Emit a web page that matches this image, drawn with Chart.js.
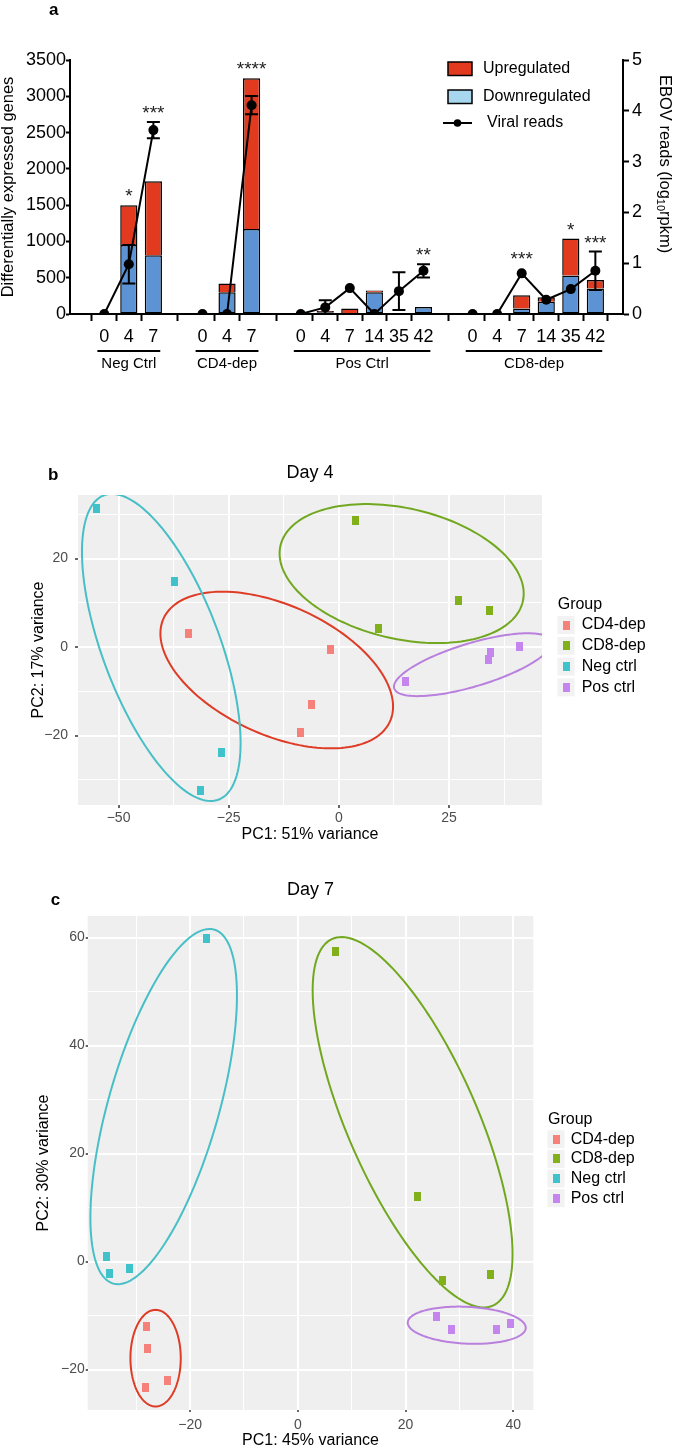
<!DOCTYPE html>
<html>
<head>
<meta charset="utf-8">
<title>Differentially expressed genes and PCA, days 4 and 7</title>
<script src="https://cdn.jsdelivr.net/npm/chart.js@4.4.1/dist/chart.umd.min.js"></script>
<style>
  body { margin: 0; background: #fff; }
  .panel { position: absolute; left: 0; }
</style>
</head>
<body>
<canvas id="chartA" class="panel" width="675" height="380" style="top:0px"></canvas>
<canvas id="chartB" class="panel" width="675" height="410" style="top:440px"></canvas>
<canvas id="chartC" class="panel" width="675" height="590" style="top:860px"></canvas>
<script>
// ---- panel a: DEG bars + viral reads ----
const groupNames = ['Neg Ctrl', 'CD4-dep', 'Pos Ctrl', 'CD8-dep'];
const groupSizes = [3, 3, 6, 6];
const dayLabels = ['0', '4', '7', '0', '4', '7', '0', '4', '7', '14', '35', '42', '0', '4', '7', '14', '35', '42'];
const downregulated = [0, 950, 810, 0, 300, 1170, 0, 25, 15, 300, 0, 95, 0, 0, 75, 170, 530, 350];
const upregulated = [0, 550, 1020, 0, 120, 2080, 0, 15, 60, 25, 0, 0, 0, 0, 185, 60, 510, 120];
const viralReads = [0, 0.98, 3.62, 0, 0, 4.11, 0, 0.13, 0.51, 0, 0.45, 0.85, 0, 0, 0.80, 0.28, 0.49, 0.85];
const viralErr = [0, 0.38, 0.16, 0, 0, 0.18, 0, 0.14, 0, 0, 0.37, 0.13, 0, 0, 0, 0, 0, 0.38];
const sigStars = ['', '*', '***', '', '', '****', '', '', '', '', '', '**', '', '', '***', '', '*', '***'];

// ---- panels b and c: PCA ----
const groupLabels = ['CD4-dep', 'CD8-dep', 'Neg ctrl', 'Pos ctrl'];
const day4PC1 = [[-34.2, -2.0, -6.2, -8.7], [3.7, 8.9, 27.1, 34.2], [-54.9, -37.3, -26.7, -31.4], [15.2, 34.0, 34.3, 41.0]];
const day4PC2 = [[3.0, -0.5, -12.9, -19.3], [28.7, 4.1, 10.6, 8.3], [31.2, 14.9, -23.9, -32.5], [-7.8, -2.9, -1.2, 0.1]];
// ellipse per group: centre x, centre y, half width, half height, x offset of topmost point
const day4Ellipses = [[-14.1, -5.2, 26.4, 17.7, -12.3], [14.25, 16.6, 27.7, 15.7, -8.0], [-40.3, -0.1, 18.0, 34.7, -11.2], [30.4, -4.0, 17.9, 7.1, 12.5]];
const day4MajorX = [-50, -25, 0, 25];
const day4MinorX = [-37.5, -12.5, 12.5, 37.5];
const day4MajorY = [-20, 0, 20];
const day4MinorY = [-30, -10, 10, 30];

const day7PC1 = [[-28.1, -27.9, -28.2, -24.1], [6.9, 22.2, 26.9, 35.7], [-17.0, -35.5, -35.0, -31.2], [25.8, 28.6, 36.8, 39.5]];
const day7PC2 = [[-12.1, -16.2, -23.4, -22.1], [57.5, 12.0, -3.6, -2.4], [59.85, 1.0, -2.3, -1.3], [-10.1, -12.5, -12.5, -11.4]];
const day7Ellipses = [[-26.4, -17.9, 4.67, 8.95, 0], [21.3, 25.8, 18.55, 34.3, -13.2], [-24.9, 28.7, 13.6, 32.9, 8.5], [31.35, -11.8, 10.95, 3.45, -1.5]];
const day7MajorX = [-20, 0, 20, 40];
const day7MinorX = [-30, -10, 10, 30];
const day7MajorY = [-20, 0, 20, 40, 60];
const day7MinorY = [-10, 10, 30, 50];

const pointColors = ['#f6807a', '#82b01a', '#3fc2c9', '#c585ee'];
const ellipseColors = ['#de3c26', '#72a81f', '#48bfc7', '#b980de'];

const fontFamily = "'Liberation Sans', Arial, Helvetica, sans-serif";
Chart.defaults.font.family = fontFamily;
Chart.defaults.color = '#000';

document.addEventListener('DOMContentLoaded', function() {
    // slot positions on the x axis, one empty slot between groups
    const slots = [];
    const groupSlots = [];
    let nextSlot = 0;
    groupSizes.forEach(n => {
        const first = nextSlot;
        for (let i = 0; i < n; i++) slots.push(nextSlot++);
        groupSlots.push([first, nextSlot - 1]);
        nextSlot++;
    });

    const viralPoints = [];
    slots.forEach((s, i) => {
        if (i > 0 && s - slots[i - 1] > 1) viralPoints.push({x: s - 1, y: null});
        viralPoints.push({x: s, y: viralReads[i]});
    });

    const panelAExtras = {
        id: 'panelAExtras',
        afterDatasetsDraw(chart) {
            const {ctx, scales: {x, y, y2}} = chart;
            ctx.save();
            // error bars
            ctx.strokeStyle = '#000';
            ctx.lineWidth = 2;
            viralErr.forEach((err, i) => {
                if (!err) return;
                const px = x.getPixelForValue(slots[i]);
                const hi = y2.getPixelForValue(viralReads[i] + err);
                const lo = y2.getPixelForValue(Math.max(0, viralReads[i] - err));
                ctx.beginPath();
                ctx.moveTo(px, hi); ctx.lineTo(px, lo);
                ctx.moveTo(px - 6.5, hi); ctx.lineTo(px + 6.5, hi);
                ctx.moveTo(px - 6.5, lo); ctx.lineTo(px + 6.5, lo);
                ctx.stroke();
            });
            // significance stars
            ctx.font = '19px ' + fontFamily;
            ctx.fillStyle = '#222';
            ctx.textAlign = 'center';
            ctx.textBaseline = 'alphabetic';
            sigStars.forEach((s, i) => {
                if (!s) return;
                const px = x.getPixelForValue(slots[i]);
                const barTop = y.getPixelForValue(downregulated[i] + upregulated[i]);
                const errTop = y2.getPixelForValue(viralReads[i] + viralErr[i]);
                const dotTop = y2.getPixelForValue(viralReads[i]) - 5;
                ctx.fillText(s, px, Math.min(barTop, errTop, dotTop) - 3);
            });
            ctx.restore();
        },
        afterDraw(chart) {
            const {ctx, scales: {x}} = chart;
            const ds = chart.data.datasets;
            ctx.save();
            // group brackets under the day labels
            const slotPx = x.getPixelForValue(1) - x.getPixelForValue(0);
            ctx.strokeStyle = '#000';
            ctx.lineWidth = 2;
            ctx.fillStyle = '#000';
            ctx.font = '15px ' + fontFamily;
            ctx.textAlign = 'center';
            ctx.textBaseline = 'alphabetic';
            groupSlots.forEach(([a, b], g) => {
                const x0 = x.getPixelForValue(a) - 0.28 * slotPx;
                const x1 = x.getPixelForValue(b) + 0.28 * slotPx;
                ctx.beginPath();
                ctx.moveTo(x0, 351); ctx.lineTo(x1, 351);
                ctx.stroke();
                ctx.fillText(groupNames[g], (x0 + x1) / 2, 368);
            });

            // legend
            ctx.textAlign = 'left';
            ctx.textBaseline = 'middle';
            ctx.font = '16px ' + fontFamily;
            ctx.lineWidth = 1.5;
            ctx.fillStyle = ds[2].backgroundColor;
            ctx.fillRect(448, 62, 24, 13.5);
            ctx.strokeRect(448, 62, 24, 13.5);
            ctx.fillStyle = '#a8d6ef';
            ctx.fillRect(448, 90, 24, 13.5);
            ctx.strokeRect(448, 90, 24, 13.5);
            ctx.lineWidth = 2;
            ctx.beginPath();
            ctx.moveTo(443, 123); ctx.lineTo(472, 123);
            ctx.stroke();
            ctx.fillStyle = '#000';
            ctx.beginPath();
            ctx.arc(457.5, 123, 3.8, 0, Math.PI * 2);
            ctx.fill();
            ctx.fillText(ds[2].label, 483, 69);
            ctx.fillText(ds[1].label, 483, 97);
            ctx.fillText(ds[0].label, 487, 123);

            // right axis title with subscript
            ctx.translate(665, 75);
            ctx.rotate(Math.PI / 2);
            ctx.textBaseline = 'middle';
            ctx.font = '16.5px ' + fontFamily;
            let tx = 0;
            ctx.fillText('EBOV reads (log', tx, 0);
            tx += ctx.measureText('EBOV reads (log').width;
            ctx.font = '11px ' + fontFamily;
            ctx.fillText('10', tx, 5);
            tx += ctx.measureText('10').width;
            ctx.font = '16.5px ' + fontFamily;
            ctx.fillText('rpkm)', tx, 0);
            ctx.restore();

            ctx.save();
            ctx.font = 'bold 17px ' + fontFamily;
            ctx.fillStyle = '#000';
            ctx.fillText('a', 49, 15);
            ctx.restore();
        }
    };

    // Differentially expressed genes chart
    new Chart(document.getElementById('chartA'), {
        type: 'bar',
        data: {
            datasets: [{
                type: 'line',
                label: 'Viral reads',
                data: viralPoints,
                yAxisID: 'y2',
                borderColor: '#000',
                borderWidth: 2,
                pointRadius: 5,
                pointBackgroundColor: '#000',
                pointBorderWidth: 0,
                spanGaps: false,
                order: 0
            }, {
                label: 'Downregulated',
                data: downregulated.map((v, i) => ({x: slots[i], y: v})),
                backgroundColor: '#5b93d4',
                borderColor: '#000',
                borderWidth: 1.5,
                borderSkipped: false,
                stack: 'deg',
                order: 1
            }, {
                label: 'Upregulated',
                data: upregulated.map((v, i) => ({x: slots[i], y: v})),
                backgroundColor: '#e23a1e',
                borderColor: '#000',
                borderWidth: 1.5,
                borderSkipped: 'start',
                stack: 'deg',
                order: 1
            }]
        },
        options: {
            responsive: false,
            animation: false,
            devicePixelRatio: 1,
            layout: { padding: { top: 60, left: 0, right: 0, bottom: 0 } },
            datasets: { bar: { categoryPercentage: 1, barPercentage: 0.7 } },
            plugins: {
                legend: { display: false },
                tooltip: { enabled: false }
            },
            scales: {
                x: {
                    type: 'linear',
                    min: -0.77,
                    max: 20.5,
                    bounds: 'data',
                    afterBuildTicks: s => { s.ticks = slots.map(v => ({value: v})); },
                    ticks: {
                        callback: (v, i) => dayLabels[i],
                        font: { size: 18 },
                        color: '#000',
                        padding: 5,
                        autoSkip: false,
                        maxRotation: 0
                    },
                    grid: { drawOnChartArea: false, tickLength: 7, tickColor: '#000', tickWidth: 2 },
                    border: { color: '#000', width: 2 },
                    afterFit: s => { s.height = 66; }
                },
                y: {
                    min: 0,
                    max: 3500,
                    stacked: true,
                    ticks: { stepSize: 500, callback: v => String(v), font: { size: 18 }, color: '#000', padding: 0 },
                    grid: { drawOnChartArea: false, tickLength: 4, tickColor: '#000', tickWidth: 2 },
                    border: { color: '#000', width: 2 },
                    title: {
                        display: true,
                        text: 'Differentially expressed genes',
                        font: { size: 16.5, lineHeight: 1 },
                        color: '#000',
                        padding: 0
                    },
                    afterFit: s => { s.width = 70; }
                },
                y2: {
                    position: 'right',
                    min: 0,
                    max: 5,
                    ticks: { stepSize: 1, callback: v => String(v), font: { size: 18 }, color: '#000', padding: 3 },
                    grid: { drawOnChartArea: false, tickLength: 6, tickColor: '#000', tickWidth: 2 },
                    border: { color: '#000', width: 2 },
                    afterFit: s => { s.width = 52; }
                }
            }
        },
        plugins: [panelAExtras]
    });

    // PCA panels
    function makeMarker(color) {
        const c = document.createElement('canvas');
        c.width = 7;
        c.height = 9;
        const g = c.getContext('2d');
        g.fillStyle = color;
        g.fillRect(0, 0, 7, 9);
        return c;
    }
    const markers = pointColors.map(makeMarker);

    const pcaExtras = {
        id: 'pcaExtras',
        beforeDraw(chart) {
            const {ctx, chartArea: a} = chart;
            ctx.save();
            ctx.fillStyle = '#efefef';
            ctx.fillRect(a.left, a.top, a.right - a.left, a.bottom - a.top);
            ctx.restore();
        },
        beforeDatasetsDraw(chart, args, opts) {
            const {ctx, chartArea: a, scales: {x, y}} = chart;
            ctx.save();
            ctx.beginPath();
            ctx.rect(a.left, a.top, a.right - a.left, a.bottom - a.top);
            ctx.clip();
            ctx.lineWidth = 2;
            opts.ellipses.forEach((e, g) => {
                const [cx, cy, w, h, topX] = e;
                const c21 = topX * h / w;
                const c22 = Math.sqrt(h * h - c21 * c21);
                ctx.strokeStyle = ellipseColors[g];
                ctx.beginPath();
                for (let k = 0; k <= 160; k++) {
                    const t = k / 160 * Math.PI * 2;
                    const px = x.getPixelForValue(cx + w * Math.cos(t));
                    const py = y.getPixelForValue(cy + c21 * Math.cos(t) + c22 * Math.sin(t));
                    if (k === 0) ctx.moveTo(px, py); else ctx.lineTo(px, py);
                }
                ctx.closePath();
                ctx.stroke();
            });
            ctx.restore();
        },
        afterDraw(chart, args, opts) {
            const {ctx} = chart;
            const lg = opts.legend;
            ctx.save();
            ctx.fillStyle = '#000';
            ctx.textAlign = 'left';
            ctx.textBaseline = 'middle';
            ctx.font = '16px ' + fontFamily;
            ctx.fillText('Group', lg.titleX, lg.titleY);
            chart.data.datasets.forEach((ds, g) => {
                const ry = lg.rowY + g * lg.rowStep;
                ctx.fillStyle = '#f2f2f2';
                ctx.fillRect(lg.keyX - 8.5, ry - 9, 17, 18);
                ctx.drawImage(ds.pointStyle, lg.keyX - 3.5, ry - 4.5);
                ctx.fillStyle = '#000';
                ctx.fillText(ds.label, lg.textX, ry);
            });
            ctx.font = 'bold 17px ' + fontFamily;
            ctx.textBaseline = 'alphabetic';
            ctx.fillText(opts.letter, opts.letterX, opts.letterY);
            ctx.restore();
        }
    };

    function pcaChart(canvasId, spec) {
        const fmt = v => (v < 0 ? '\u2212' + Math.abs(v) : String(v));
        const isMajor = (major, c) => !!(c.tick && major.includes(c.tick.value));
        const axisGrid = major => ({
            color: '#ffffff',
            lineWidth: c => (isMajor(major, c) ? 2 : 1),
            tickLength: spec.tickLength,
            tickWidth: 1.5,
            tickColor: c => (isMajor(major, c) ? '#333333' : 'rgba(0,0,0,0)')
        });
        const tickList = (major, minor) => s => {
            s.ticks = major.concat(minor).sort((a, b) => a - b).map(v => ({value: v}));
        };
        return new Chart(document.getElementById(canvasId), {
            type: 'scatter',
            data: {
                datasets: groupLabels.map((label, g) => ({
                    label: label,
                    data: spec.pc1[g].map((v, i) => ({x: v, y: spec.pc2[g][i]})),
                    pointStyle: markers[g],
                    pointRadius: 4,
                    backgroundColor: pointColors[g],
                    borderColor: pointColors[g]
                }))
            },
            options: {
                responsive: false,
                animation: false,
                devicePixelRatio: 1,
                layout: { padding: spec.padding },
                plugins: {
                    legend: { display: false },
                    tooltip: { enabled: false },
                    title: {
                        display: true,
                        text: spec.title,
                        fullSize: false,
                        font: { size: 18, weight: 'normal' },
                        color: '#000',
                        padding: { top: 0, bottom: spec.titlePad }
                    },
                    pcaExtras: {
                        ellipses: spec.ellipses,
                        legend: spec.legend,
                        letter: spec.letter,
                        letterX: spec.letterX,
                        letterY: spec.letterY
                    }
                },
                scales: {
                    x: {
                        type: 'linear',
                        min: spec.xRange[0],
                        max: spec.xRange[1],
                        bounds: 'data',
                        afterBuildTicks: tickList(spec.majorX, spec.minorX),
                        ticks: {
                            callback: v => (spec.majorX.includes(v) ? fmt(v) : ''),
                            font: { size: 14 },
                            color: '#4d4d4d',
                            padding: spec.xTickPad,
                            autoSkip: false,
                            maxRotation: 0
                        },
                        grid: axisGrid(spec.majorX),
                        border: { display: false },
                        title: { display: true, text: spec.xTitle, font: { size: 16 }, color: '#000', padding: 0 },
                        afterFit: s => { s.height = spec.xAxisHeight; }
                    },
                    y: {
                        type: 'linear',
                        min: spec.yRange[0],
                        max: spec.yRange[1],
                        bounds: 'data',
                        afterBuildTicks: tickList(spec.majorY, spec.minorY),
                        ticks: {
                            callback: v => (spec.majorY.includes(v) ? fmt(v) : ''),
                            font: { size: 14 },
                            color: '#4d4d4d',
                            padding: spec.yTickPad,
                            autoSkip: false
                        },
                        grid: axisGrid(spec.majorY),
                        border: { display: false },
                        title: { display: true, text: spec.yTitle, font: { size: 16 }, color: '#000', padding: { top: spec.yTitlePad, bottom: 0 } },
                        afterFit: s => { s.width = spec.yAxisWidth; }
                    }
                }
            },
            plugins: [pcaExtras]
        });
    }

    // Day 4 PCA
    pcaChart('chartB', {
        title: 'Day 4',
        xTitle: 'PC1: 51% variance',
        yTitle: 'PC2: 17% variance',
        pc1: day4PC1,
        pc2: day4PC2,
        ellipses: day4Ellipses,
        majorX: day4MajorX, minorX: day4MinorX,
        majorY: day4MajorY, minorY: day4MinorY,
        xRange: [-59.2, 46.1],
        yRange: [-35.7, 34.35],
        padding: { top: 22.2, right: 133, bottom: 5.4, left: 0 },
        titlePad: 11.2,
        yAxisWidth: 78,
        xAxisHeight: 39.6,
        yTitlePad: 28.7,
        tickLength: 3,
        xTickPad: 2,
        yTickPad: 7,
        legend: { titleX: 557.7, titleY: 165, rowY: 185, rowStep: 20.8, keyX: 566, textX: 581.7 },
        letter: 'b', letterX: 48, letterY: 40
    });

    // Day 7 PCA
    pcaChart('chartC', {
        title: 'Day 7',
        xTitle: 'PC1: 45% variance',
        yTitle: 'PC2: 30% variance',
        pc1: day7PC1,
        pc2: day7PC2,
        ellipses: day7Ellipses,
        majorX: day7MajorX, minorX: day7MinorX,
        majorY: day7MajorY, minorY: day7MinorY,
        xRange: [-39.0, 43.7],
        yRange: [-27.5, 64.0],
        padding: { top: 19.2, right: 141.7, bottom: 0, left: 0 },
        titlePad: 15.2,
        yAxisWidth: 87.7,
        xAxisHeight: 40,
        yTitlePad: 34.4,
        tickLength: 2,
        xTickPad: 4.6,
        yTickPad: 1,
        legend: { titleX: 548, titleY: 260, rowY: 279.3, rowStep: 19.6, keyX: 556, textX: 570.7 },
        letter: 'c', letterX: 50.7, letterY: 45
    });
});
</script>
</body>
</html>
